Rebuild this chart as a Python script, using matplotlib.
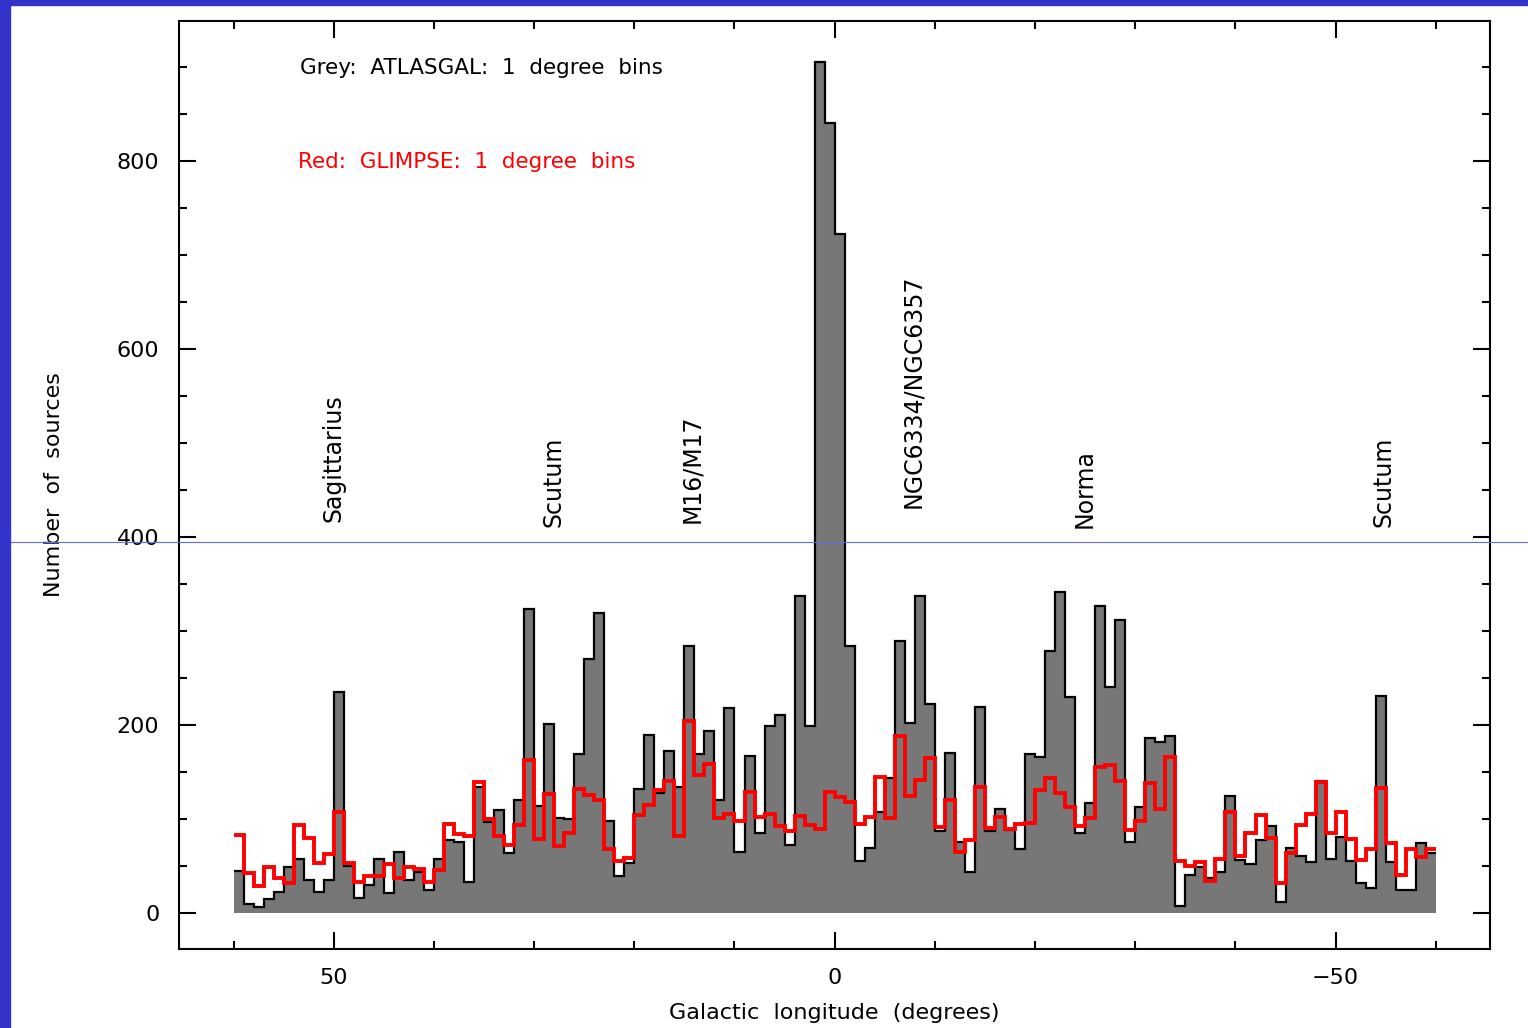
import matplotlib
matplotlib.use('Agg')
import matplotlib.pyplot as plt
from matplotlib.ticker import MultipleLocator
import numpy as np

# 1 degree bins, from l = 60 down to l = -60
edges = np.arange(60, -61, -1)

atlasgal = [45, 10, 6, 15, 22, 49, 57, 35, 22, 35, 235, 50, 16, 30, 58, 21, 65, 35, 44, 24,
            57, 78, 76, 33, 134, 97, 110, 64, 120, 323, 114, 201, 101, 100, 169, 270, 319, 98, 39, 53,
            132, 189, 128, 172, 134, 284, 169, 194, 120, 218, 65, 167, 85, 199, 211, 72, 337, 199, 905, 840,
            722, 284, 55, 69, 108, 144, 289, 202, 337, 222, 87, 170, 76, 44, 219, 87, 111, 88, 68, 169,
            166, 279, 342, 230, 85, 117, 327, 241, 312, 76, 113, 186, 182, 188, 7, 40, 49, 37, 44, 124,
            56, 52, 78, 93, 12, 69, 61, 54, 140, 57, 81, 55, 32, 27, 231, 54, 25, 24, 75, 64]

glimpse = [83, 43, 29, 49, 37, 32, 94, 80, 53, 63, 107, 53, 33, 39, 39, 52, 37, 49, 47, 33,
           46, 95, 84, 82, 139, 100, 82, 72, 94, 163, 79, 127, 71, 85, 132, 126, 120, 68, 55, 59,
           104, 115, 131, 141, 82, 204, 147, 159, 101, 105, 98, 129, 102, 105, 93, 87, 103, 94, 89, 129,
           123, 118, 95, 102, 145, 101, 188, 124, 142, 165, 92, 120, 65, 78, 134, 90, 102, 89, 95, 96,
           131, 144, 128, 113, 93, 101, 155, 157, 141, 88, 98, 138, 111, 166, 55, 50, 54, 34, 57, 108,
           61, 85, 104, 80, 32, 64, 94, 105, 139, 85, 108, 79, 56, 68, 133, 74, 41, 68, 60, 68]

regions = ['Sagittarius', 'Scutum', 'M16/M17', 'NGC6334/NGC6357', 'Norma', 'Scutum']
region_l = [50.0, 28.1, 14.2, -7.8, -24.9, -54.8]
region_y = [416, 411, 415, 431, 410, 411]

plt.rcParams['font.family'] = 'DejaVu Sans'

fig = plt.figure(figsize=(15.28, 10.28), dpi=100)
ax = fig.add_axes([0.1171, 0.0768, 0.8580, 0.9028])

# stairs wants increasing edges
e = edges[::-1]
g = np.array(atlasgal)[::-1]
r = np.array(glimpse)[::-1]
ax.stairs(g, e, baseline=0, fill=True, color='#777777', zorder=1)
ax.stairs(g, e, baseline=None, color='black', lw=1.6, zorder=2)
ax.stairs(r, e, baseline=None, color='red', lw=2.8, zorder=3)

ax.set_xlim(65.45, -65.4)
ax.set_ylim(-38.3, 949)

ax.xaxis.set_major_locator(MultipleLocator(50))
ax.xaxis.set_minor_locator(MultipleLocator(10))
ax.yaxis.set_major_locator(MultipleLocator(200))
ax.yaxis.set_minor_locator(MultipleLocator(50))
ax.tick_params(which='both', direction='in', top=True, right=True, width=1.5, labelsize=16, pad=14)
ax.tick_params(which='major', length=12.5)
ax.tick_params(which='minor', length=6)
for s in ax.spines.values():
    s.set_linewidth(1.5)

ax.set_xlabel('Galactic  longitude  (degrees)', fontsize=16)
ax.set_ylabel('Number  of  sources', fontsize=16)
ax.xaxis.set_label_coords(0.5, -0.058)
ax.yaxis.set_label_coords(-0.088, 0.5)

ax.text(53.4, 899, 'Grey:  ATLASGAL:  1  degree  bins', fontsize=15.5, va='center', ha='left')
ax.text(53.6, 799, 'Red:  GLIMPSE:  1  degree  bins', fontsize=15.5, va='center', ha='left', color='red')

for name, l, y in zip(regions, region_l, region_y):
    ax.text(l, y, name, rotation=90, fontsize=17, ha='center', va='bottom')

# slide frame and stray guide line
fig.patches.append(plt.Rectangle((0, 0), 10 / 1528, 1, transform=fig.transFigure,
                                 color='#3333cc', zorder=10))
fig.patches.append(plt.Rectangle((0, 1 - 5 / 1028), 1, 5 / 1028, transform=fig.transFigure,
                                 color='#3333cc', zorder=10))
fig.lines.append(plt.Line2D([10 / 1528, 1], [1 - 542 / 1028] * 2, transform=fig.transFigure,
                            color='#6a6ae0', lw=0.8, zorder=10))

fig.savefig('out.png', dpi=100)
